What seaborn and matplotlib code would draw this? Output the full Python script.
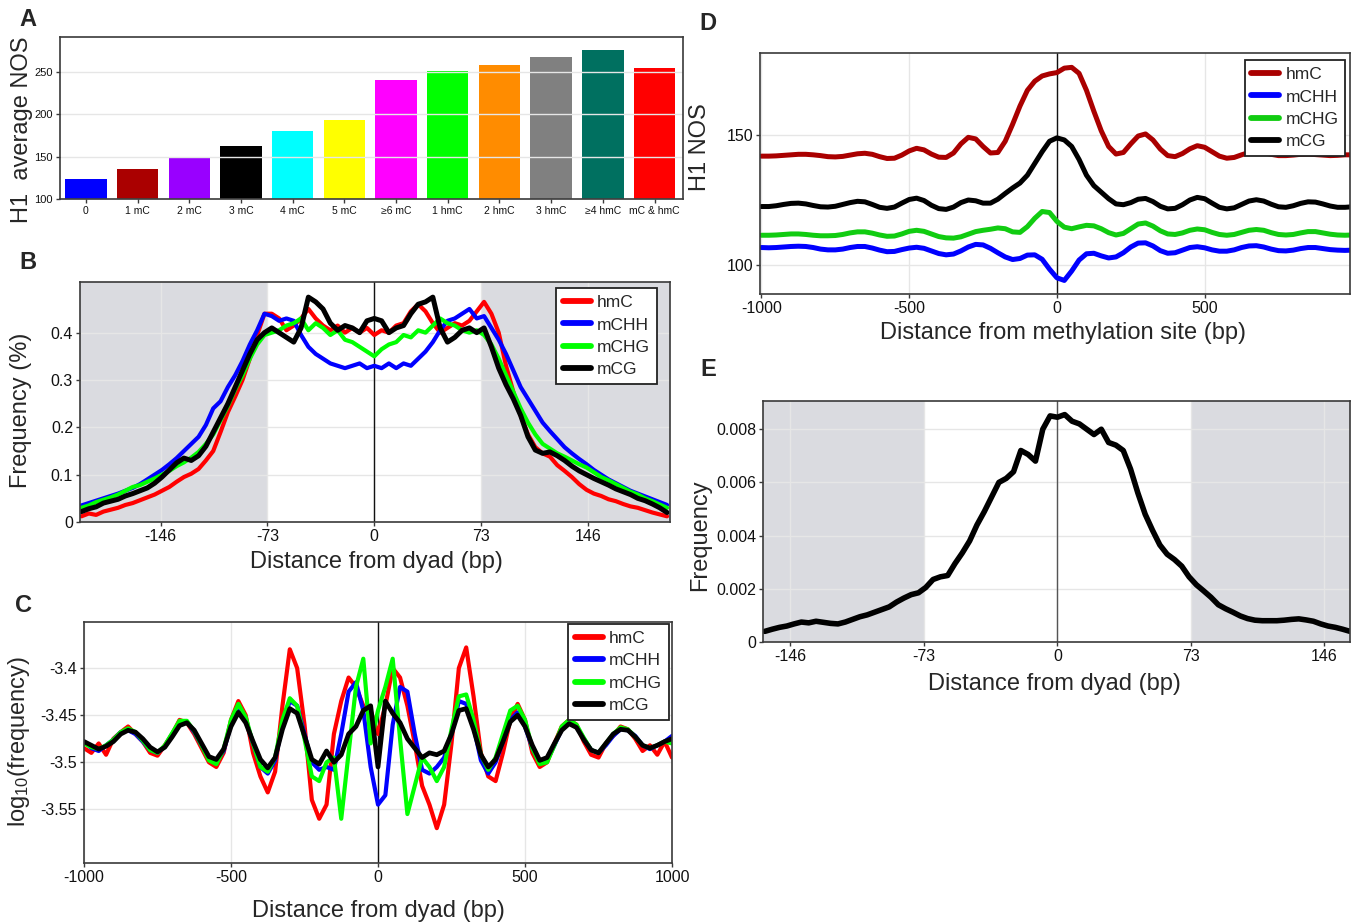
import numpy as np
import pandas as pd
import matplotlib
matplotlib.use('Agg')
import matplotlib.pyplot as plt
import seaborn as sns
from matplotlib.lines import Line2D
from matplotlib import font_manager

# ---------------- Panel A data ----------------
a_categories = ['0', '1 mC', '2 mC', '3 mC', '4 mC', '5 mC', '≥6 mC',
                '1 hmC', '2 hmC', '3 hmC', '≥4 hmC', 'mC & hmC']
a_values = [123.5, 135.5, 148, 162, 180, 193, 240, 251, 258, 268, 275.5, 255]
a_colors = ['#0000ff', '#aa0000', '#9900ff', '#000000', '#00ffff', '#ffff00',
            '#ff00ff', '#00ff00', '#ff8c00', '#808080', '#007060', '#ff0000']

# ---------------- Panel B data (distance from dyad, bp) ----------------
series_names = ['hmC', 'mCHH', 'mCHG', 'mCG']
b_x = list(range(-200, 201, 5))
b_hmc = [0.012, 0.018, 0.015, 0.022, 0.026, 0.030, 0.036, 0.040, 0.046, 0.052,
         0.058, 0.066, 0.074, 0.085, 0.095, 0.102, 0.112, 0.130, 0.150, 0.190,
         0.232, 0.265, 0.300, 0.345, 0.395, 0.440, 0.440, 0.430, 0.405, 0.415,
         0.430, 0.450, 0.430, 0.415, 0.405, 0.415, 0.400, 0.410, 0.400, 0.410,
         0.395, 0.405, 0.400, 0.415, 0.420, 0.445, 0.460, 0.445, 0.420, 0.400,
         0.410, 0.420, 0.415, 0.425, 0.445, 0.465, 0.440, 0.400, 0.330, 0.275,
         0.225, 0.185, 0.158, 0.145, 0.138, 0.120, 0.108, 0.095, 0.080, 0.068,
         0.060, 0.055, 0.048, 0.044, 0.038, 0.033, 0.030, 0.025, 0.020, 0.016,
         0.012]
b_mchh = [0.035, 0.040, 0.045, 0.050, 0.055, 0.060, 0.066, 0.072, 0.080, 0.090,
          0.100, 0.110, 0.122, 0.135, 0.150, 0.165, 0.180, 0.205, 0.240, 0.255,
          0.285, 0.310, 0.340, 0.375, 0.405, 0.440, 0.435, 0.425, 0.430, 0.425,
          0.395, 0.370, 0.355, 0.345, 0.335, 0.330, 0.325, 0.330, 0.335, 0.325,
          0.330, 0.325, 0.335, 0.325, 0.335, 0.330, 0.345, 0.360, 0.380, 0.405,
          0.425, 0.430, 0.440, 0.450, 0.430, 0.435, 0.410, 0.385, 0.355, 0.320,
          0.285, 0.260, 0.235, 0.210, 0.192, 0.175, 0.158, 0.145, 0.133, 0.122,
          0.110, 0.100, 0.090, 0.082, 0.074, 0.066, 0.060, 0.054, 0.048, 0.042,
          0.036]
b_mchg = [0.030, 0.035, 0.042, 0.047, 0.052, 0.058, 0.066, 0.074, 0.078, 0.085,
          0.092, 0.100, 0.108, 0.118, 0.126, 0.136, 0.148, 0.165, 0.185, 0.215,
          0.245, 0.280, 0.310, 0.345, 0.375, 0.395, 0.400, 0.405, 0.415, 0.420,
          0.430, 0.405, 0.420, 0.410, 0.395, 0.405, 0.385, 0.380, 0.370, 0.360,
          0.350, 0.365, 0.375, 0.380, 0.395, 0.390, 0.405, 0.400, 0.415, 0.430,
          0.420, 0.415, 0.405, 0.400, 0.405, 0.395, 0.375, 0.345, 0.310, 0.275,
          0.240, 0.210, 0.185, 0.165, 0.155, 0.145, 0.138, 0.130, 0.122, 0.115,
          0.105, 0.095, 0.088, 0.080, 0.072, 0.064, 0.058, 0.050, 0.044, 0.037,
          0.030]
b_mcg = [0.022, 0.028, 0.032, 0.040, 0.044, 0.048, 0.055, 0.060, 0.066, 0.072,
         0.082, 0.095, 0.110, 0.125, 0.135, 0.130, 0.140, 0.160, 0.190, 0.220,
         0.250, 0.285, 0.320, 0.355, 0.385, 0.400, 0.410, 0.400, 0.390, 0.380,
         0.410, 0.475, 0.465, 0.450, 0.420, 0.405, 0.415, 0.410, 0.400, 0.425,
         0.430, 0.425, 0.400, 0.410, 0.415, 0.440, 0.460, 0.465, 0.475, 0.410,
         0.380, 0.390, 0.405, 0.410, 0.400, 0.410, 0.370, 0.325, 0.290, 0.260,
         0.225, 0.180, 0.152, 0.145, 0.148, 0.140, 0.130, 0.118, 0.108, 0.100,
         0.092, 0.085, 0.078, 0.070, 0.064, 0.058, 0.050, 0.045, 0.038, 0.030,
         0.020]

# ---------------- Panel C data (log10 frequency) ----------------
c_x = list(range(-1000, 1001, 25))
c_hmc = [-3.485, -3.490, -3.480, -3.492, -3.475, -3.468, -3.462, -3.470, -3.478, -3.490,
         -3.493, -3.482, -3.470, -3.455, -3.458, -3.470, -3.485, -3.500, -3.505, -3.490,
         -3.455, -3.435, -3.450, -3.490, -3.515, -3.532, -3.510, -3.440, -3.380, -3.400,
         -3.460, -3.540, -3.560, -3.545, -3.470, -3.435, -3.410, -3.420, -3.440, -3.445,
         -3.470, -3.440, -3.400, -3.410, -3.440, -3.480, -3.525, -3.545, -3.570, -3.545,
         -3.480, -3.400, -3.378, -3.430, -3.490, -3.515, -3.520, -3.490, -3.455, -3.438,
         -3.455, -3.490, -3.505, -3.500, -3.480, -3.462, -3.455, -3.460, -3.478, -3.492,
         -3.495, -3.480, -3.472, -3.462, -3.465, -3.475, -3.488, -3.482, -3.492, -3.478,
         -3.495]
c_mchh = [-3.478, -3.485, -3.488, -3.482, -3.476, -3.468, -3.466, -3.470, -3.478, -3.487,
          -3.490, -3.483, -3.470, -3.458, -3.457, -3.468, -3.482, -3.496, -3.500, -3.488,
          -3.460, -3.445, -3.455, -3.480, -3.505, -3.512, -3.498, -3.460, -3.435, -3.440,
          -3.470, -3.500, -3.508, -3.505, -3.508, -3.470, -3.425, -3.415, -3.445, -3.505,
          -3.545, -3.535, -3.460, -3.420, -3.425, -3.470, -3.508, -3.512, -3.505, -3.495,
          -3.470, -3.435, -3.438, -3.462, -3.498, -3.512, -3.500, -3.478, -3.455, -3.447,
          -3.462, -3.485, -3.500, -3.498, -3.482, -3.465, -3.457, -3.462, -3.475, -3.487,
          -3.490, -3.482, -3.472, -3.465, -3.466, -3.472, -3.482, -3.486, -3.482, -3.478,
          -3.472]
c_mchg = [-3.480, -3.484, -3.486, -3.482, -3.476, -3.468, -3.464, -3.468, -3.477, -3.487,
          -3.490, -3.482, -3.469, -3.456, -3.456, -3.467, -3.482, -3.498, -3.502, -3.486,
          -3.455, -3.438, -3.452, -3.480, -3.505, -3.510, -3.495, -3.455, -3.432, -3.440,
          -3.475, -3.515, -3.520, -3.500, -3.495, -3.560, -3.490, -3.420, -3.390, -3.480,
          -3.445, -3.420, -3.390, -3.475, -3.555, -3.525, -3.495, -3.505, -3.520, -3.505,
          -3.465, -3.430, -3.428, -3.455, -3.492, -3.508, -3.495, -3.470, -3.445, -3.440,
          -3.455, -3.485, -3.502, -3.500, -3.482, -3.462, -3.455, -3.460, -3.474, -3.487,
          -3.490, -3.480, -3.470, -3.463, -3.465, -3.473, -3.482, -3.485, -3.482, -3.478,
          -3.480]
c_mcg = [-3.478, -3.482, -3.486, -3.483, -3.478, -3.470, -3.466, -3.468, -3.475, -3.484,
         -3.489, -3.484, -3.473, -3.461, -3.458, -3.466, -3.480, -3.494, -3.497, -3.486,
         -3.462, -3.447, -3.458, -3.478, -3.497, -3.506, -3.495, -3.465, -3.443, -3.448,
         -3.472, -3.497, -3.502, -3.488, -3.500, -3.492, -3.470, -3.462, -3.445, -3.440,
         -3.505, -3.435, -3.448, -3.458, -3.475, -3.485, -3.495, -3.490, -3.492, -3.488,
         -3.470, -3.445, -3.443, -3.465, -3.492, -3.505, -3.497, -3.478, -3.457, -3.450,
         -3.462, -3.482, -3.498, -3.495, -3.480, -3.466, -3.459, -3.463, -3.476, -3.487,
         -3.490, -3.480, -3.470, -3.465, -3.466, -3.473, -3.482, -3.485, -3.482, -3.478,
         -3.475]

# ---------------- Panel D data (H1 NOS around methylation site) ----------------
d_x = list(range(-1000, 1001, 25))
d_hmc = [141.8, 141.8, 141.9, 142.1, 142.3, 142.5, 142.5, 142.3, 142.0, 141.6,
         141.5, 141.7, 142.2, 142.7, 142.9, 142.5, 141.6, 140.9, 141.0, 142.2,
         143.8, 144.8, 144.2, 142.6, 141.4, 141.3, 143.0, 146.5, 149.0, 148.4,
         145.5, 143.0, 143.2, 147.5, 154.0, 161.0, 167.0, 170.5, 172.5, 173.3,
         173.8, 175.5, 175.8, 173.5, 167.0, 159.0, 151.5, 145.5, 142.6, 143.2,
         146.5, 149.5, 150.3, 148.0, 144.5, 142.0, 141.6, 142.8, 144.6, 145.8,
         145.2, 143.5, 141.8, 141.0, 141.3, 142.3, 143.2, 143.5, 143.2, 142.5,
         142.0, 142.0, 142.2, 142.5, 142.6, 142.4, 142.2, 142.0, 142.1, 142.3,
         142.3]
d_mchh = [106.8, 106.7, 106.8, 107.0, 107.2, 107.3, 107.2, 106.8, 106.2, 105.9,
          105.9, 106.2, 106.8, 107.2, 107.2, 106.6, 105.8, 105.2, 105.3, 106.0,
          106.6, 106.9, 106.5, 105.5, 104.5, 104.0, 104.3, 105.5, 107.0, 108.0,
          107.8, 106.5, 104.8, 103.2, 102.2, 102.6, 103.9, 104.0, 102.3, 98.5,
          95.2, 94.2, 97.8, 102.0, 104.4, 104.6, 103.6, 102.8, 103.2, 104.8,
          107.0, 108.5, 108.6, 107.4, 105.6, 104.6, 104.8, 105.8, 106.8, 107.1,
          106.7, 105.9, 105.4, 105.4, 105.9, 106.8, 107.4, 107.5, 107.0, 106.2,
          105.6, 105.5, 105.8, 106.4, 106.8, 106.8, 106.4, 106.0, 105.8, 105.7,
          105.8]
d_mchg = [111.5, 111.5, 111.6, 111.8, 112.0, 112.0, 111.8, 111.5, 111.3, 111.3,
          111.4, 111.8, 112.4, 112.8, 112.8, 112.3, 111.6, 111.1, 111.2, 112.0,
          113.0, 113.4, 113.0, 112.0, 111.0, 110.5, 110.4, 110.9, 111.9, 112.9,
          113.4, 113.8, 114.3, 114.0, 112.8, 112.6, 114.8, 118.0, 120.6, 120.2,
          116.8, 114.6, 114.0, 114.7, 115.3, 115.1, 114.0, 112.5, 111.6, 112.2,
          114.0, 115.8, 116.2, 115.0, 113.2, 112.0, 111.8, 112.4, 113.4, 113.9,
          113.6, 112.6, 111.8, 111.5, 111.8, 112.6, 113.4, 113.7, 113.4, 112.5,
          111.8, 111.6, 111.8, 112.4, 112.9, 112.9, 112.4, 111.9, 111.6, 111.5,
          111.6]
d_mcg = [122.5, 122.5, 122.8, 123.3, 123.7, 123.8, 123.5, 122.9, 122.4, 122.3,
         122.6, 123.3, 124.0, 124.5, 124.3, 123.3, 122.2, 121.8, 122.3, 123.8,
         125.2, 125.7, 124.8, 123.0, 121.7, 121.4, 122.3, 124.0, 125.0, 124.7,
         123.8, 123.8, 125.3, 127.5, 129.6, 131.5, 134.5, 139.0, 143.5, 147.5,
         148.8, 148.0, 145.5, 140.5, 134.5, 130.5, 128.0, 125.5, 123.5, 123.2,
         124.0, 125.3, 125.6, 124.4, 122.6, 121.6, 121.8, 123.2, 125.0, 126.0,
         125.5, 123.8, 122.2, 121.6, 122.0, 123.3, 124.6, 125.1, 124.6, 123.4,
         122.4, 122.2, 122.8, 123.7, 124.3, 124.2, 123.5, 122.7, 122.2, 122.2,
         122.4]

# ---------------- Panel E data ----------------
e_x = list(range(-160, 161, 4))
e_freq = [0.00040, 0.00048, 0.00055, 0.00060, 0.00068, 0.00075, 0.00072, 0.00078, 0.00074, 0.00070,
          0.00068, 0.00075, 0.00085, 0.00095, 0.00102, 0.00112, 0.00122, 0.00132, 0.00150, 0.00165,
          0.00178, 0.00185, 0.00205, 0.00235, 0.00245, 0.00250, 0.00295, 0.00335, 0.00380, 0.00440,
          0.00490, 0.00545, 0.00600, 0.00615, 0.00640, 0.00720, 0.00705, 0.00680, 0.00800, 0.00850,
          0.00845, 0.00855, 0.00830, 0.00820, 0.00800, 0.00780, 0.00800, 0.00750, 0.00740, 0.00720,
          0.00650, 0.00560, 0.00480, 0.00420, 0.00365, 0.00330, 0.00310, 0.00285, 0.00245, 0.00215,
          0.00192, 0.00168, 0.00140, 0.00125, 0.00112, 0.00098, 0.00088, 0.00082, 0.00080, 0.00080,
          0.00080, 0.00082, 0.00085, 0.00087, 0.00083, 0.00078, 0.00068, 0.00060, 0.00055, 0.00048,
          0.00040]

bright_colors = ['#ff0000', '#0000ff', '#00ff00', '#000000']
d_colors = ['#aa0000', '#0000ff', '#11cc11', '#000000']

# ---------------- style ----------------
sns.set_theme(style='white')
plt.rcParams['font.family'] = ['Liberation Sans', 'DejaVu Sans']
plt.rcParams['mathtext.default'] = 'regular'
_installed = {f.name for f in font_manager.fontManager.ttflist}
TICKFONT = ['Liberation Sans Narrow', 'Liberation Sans', 'DejaVu Sans'] \
    if 'Liberation Sans Narrow' in _installed else ['Liberation Sans', 'DejaVu Sans']
NARROW = 'Liberation Sans Narrow' in _installed
TICKSIZE = 12.5 if NARROW else 11.5
SHADE = '#dadbe0'
GRID = '#e6e6e6'
FRAME = '#3a3a3a'

W, H = 1351, 924
fig = plt.figure(figsize=(W / 100, H / 100), dpi=100)


def add_ax(left, top, right, bottom):
    return fig.add_axes([left / W, 1 - bottom / H, (right - left) / W, (bottom - top) / H])


def style_axis(ax):
    ax.set_facecolor('white')
    for s in ax.spines.values():
        s.set_visible(True)
        s.set_color(FRAME)
        s.set_linewidth(1.2)
    ax.grid(True, color=GRID, linewidth=1.0)
    ax.set_axisbelow('line')
    ax.tick_params(direction='out', length=3, width=1, color=FRAME,
                   labelcolor='#111111', pad=2, bottom=True, left=True)


def set_ticks(ax, xt, xl, yt, yl, size=TICKSIZE):
    ax.set_xticks(xt, labels=xl, fontsize=size, family=TICKFONT)
    ax.set_yticks(yt, labels=yl, fontsize=size, family=TICKFONT)


def set_labels(ax, xlabel, xpos, ylabel, ypos, size=17):
    ax.set_xlabel(xlabel, fontsize=size)
    ax.set_ylabel(ylabel, fontsize=size)
    ax.xaxis.label.set_va('center')
    ax.yaxis.label.set_va('center')
    ax.xaxis.set_label_coords(*xpos)
    ax.yaxis.set_label_coords(*ypos)


def line_panel(ax, x, series, colors, widths):
    frames = [pd.DataFrame({'x': x, 'y': vals, 'series': name})
              for name, vals in zip(series_names, series)]
    df = pd.concat(frames, ignore_index=True)
    n0 = len(ax.get_lines())
    sns.lineplot(data=df, x='x', y='y', hue='series', hue_order=series_names,
                 palette=dict(zip(series_names, colors)), ax=ax, legend=False,
                 estimator=None, sort=False)
    for line, lw in zip(ax.get_lines()[n0:], widths):
        line.set_linewidth(lw)
        line.set_solid_joinstyle('round')
        line.set_zorder(2.5)


def add_legend(ax, colors, anchor):
    handles = [Line2D([0], [0], color=c, lw=4.2) for c in colors]
    leg = ax.legend(handles, series_names, loc='upper right', bbox_to_anchor=anchor,
                    borderaxespad=0, frameon=True, fancybox=False,
                    prop={'family': TICKFONT, 'size': 12.5},
                    handlelength=1.6, handletextpad=0.35, labelspacing=0.42,
                    borderpad=0.4)
    leg.get_frame().set_edgecolor('#222222')
    leg.get_frame().set_linewidth(1.3)
    leg.get_frame().set_alpha(1)
    leg.set_zorder(5)


def letter(x, y, s):
    fig.text(x / W, 1 - y / H, s, fontsize=17, fontweight='bold', ha='center', va='center')


# ---------------- Panel A ----------------
axA = add_ax(60, 37, 683, 199)
style_axis(axA)
dfA = pd.DataFrame({'cat': a_categories, 'val': a_values})
sns.barplot(data=dfA, x='cat', y='val', hue='cat', palette=dict(zip(a_categories, a_colors)),
            legend=False, width=0.8, ax=axA, saturation=1, edgecolor='none')
axA.set_ylim(100, 291)
axA.set_xlim(-0.5, 11.55)
set_ticks(axA, range(len(a_categories)), a_categories, [100, 150, 200, 250],
          ['100', '150', '200', '250'], size=8.5 if NARROW else 8)
axA.tick_params(axis='x', labelsize=8 if NARROW else 7.5)
axA.set_xlabel('')
axA.set_ylabel('H1  average NOS', fontsize=17)
axA.yaxis.label.set_va('center')
axA.yaxis.set_label_coords(-0.061, 0.43)
letter(28, 20, 'A')

# ---------------- Panel B ----------------
axB = add_ax(80, 282, 670, 522)
style_axis(axB)
axB.axvspan(-210, -73, color=SHADE, zorder=0.4, lw=0)
axB.axvspan(73, 210, color=SHADE, zorder=0.4, lw=0)
line_panel(axB, b_x, [b_hmc, b_mchh, b_mchg, b_mcg], bright_colors, [3.0, 3.0, 3.0, 3.6])
axB.axvline(0, color='#111111', lw=1.0, zorder=1.8)
axB.set_xlim(-201, 202)
axB.set_ylim(0, 0.507)
set_ticks(axB, [-146, -73, 0, 73, 146], ['-146', '-73', '0', '73', '146'],
          [0, 0.1, 0.2, 0.3, 0.4], ['0', '0.1', '0.2', '0.3', '0.4'])
set_labels(axB, 'Distance from dyad (bp)', (0.502, -0.167), 'Frequency (%)', (-0.10, 0.467))
add_legend(axB, bright_colors, (0.978, 0.975))
letter(28, 263, 'B')

# ---------------- Panel C ----------------
axC = add_ax(84, 622, 672, 863)
style_axis(axC)
line_panel(axC, c_x, [c_hmc, c_mchh, c_mchg, c_mcg], bright_colors, [3.0, 3.0, 3.0, 3.4])
axC.axvline(0, color='#111111', lw=1.0, zorder=1.8)
axC.set_xlim(-1000, 1000)
axC.set_ylim(-3.607, -3.351)
set_ticks(axC, [-1000, -500, 0, 500, 1000], ['-1000', '-500', '0', '500', '1000'],
          [-3.55, -3.5, -3.45, -3.4], ['-3.55', '-3.5', '-3.45', '-3.4'])
set_labels(axC, 'Distance from dyad (bp)', (0.5, -0.199), r'log$_{10}$(frequency)', (-0.110, 0.502))
add_legend(axC, bright_colors, (0.995, 0.992))
letter(24, 605, 'C')

# ---------------- Panel D ----------------
axD = add_ax(760, 53, 1350, 294)
style_axis(axD)
line_panel(axD, d_x, [d_hmc, d_mchh, d_mchg, d_mcg], d_colors, [3.6, 3.6, 3.6, 3.6])
axD.axvline(0, color='#111111', lw=1.0, zorder=1.8)
axD.set_xlim(-1005, 992)
axD.set_ylim(89, 181.3)
set_ticks(axD, [-1000, -500, 0, 500], ['-1000', '-500', '0', '500'],
          [100, 150], ['100', '150'])
set_labels(axD, 'Distance from methylation site (bp)', (0.514, -0.162), 'H1 NOS', (-0.102, 0.61))
add_legend(axD, d_colors, (0.992, 0.971))
letter(708, 23, 'D')

# ---------------- Panel E ----------------
axE = add_ax(763, 401, 1350, 642)
style_axis(axE)
axE.axvspan(-170, -73, color=SHADE, zorder=0.4, lw=0)
axE.axvspan(73, 170, color=SHADE, zorder=0.4, lw=0)
sns.lineplot(x=e_x, y=e_freq, color='black', ax=axE, estimator=None, sort=False, lw=4.0)
for ln in axE.get_lines():
    ln.set_zorder(2.5)
axE.axvline(0, color='#555555', lw=1.0, zorder=1.8)
axE.set_xlim(-161, 160)
axE.set_ylim(0, 0.00906)
set_ticks(axE, [-146, -73, 0, 73, 146], ['-146', '-73', '0', '73', '146'],
          [0, 0.002, 0.004, 0.006, 0.008], ['0', '0.002', '0.004', '0.006', '0.008'])
set_labels(axE, 'Distance from dyad (bp)', (0.497, -0.174), 'Frequency', (-0.107, 0.444))
letter(708, 369, 'E')

fig.savefig('out.png', dpi=100, facecolor='white')
